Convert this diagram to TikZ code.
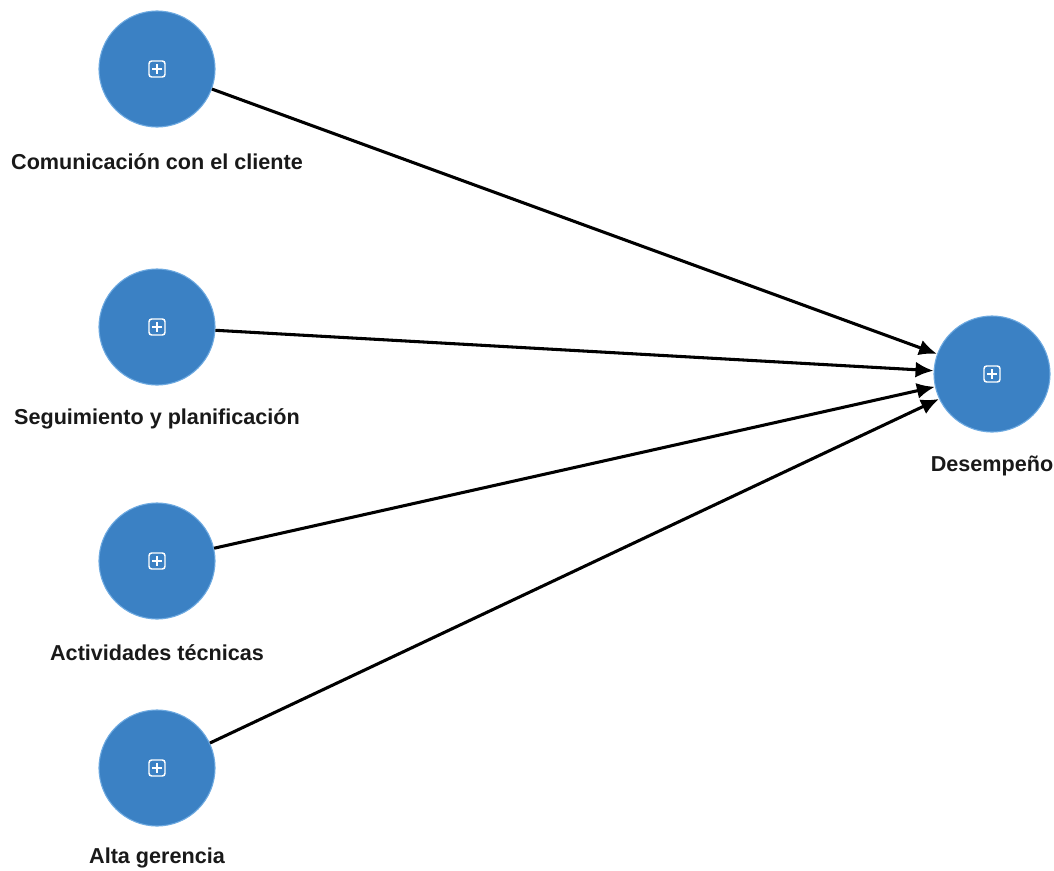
\documentclass[tikz,border=0pt]{standalone}
\usepackage{fontspec}
\setmainfont{Liberation Sans}
\usetikzlibrary{arrows.meta,calc}
\definecolor{nodeblue}{RGB}{59,129,196}
\definecolor{nodeedge}{RGB}{110,170,225}
\tikzset{
  lv/.style={circle, minimum size=87pt, inner sep=0pt, fill=nodeblue, draw=nodeedge, line width=0.8pt},
  lbl/.style={font=\bfseries\fontsize{16.2}{19}\selectfont, text=black!90},
  conn/.style={line width=2.3pt, -{Latex[length=13.5pt,width=12pt]}},
}
\newcommand{\plusicon}[1]{%
  \draw[white, line width=1.1pt, rounded corners=2pt] ($(#1)+(-8,-8)$) rectangle ($(#1)+(8,8)$);
  \draw[white, line width=1.1pt] ($(#1)+(-5,0)$) -- ($(#1)+(5,0)$) ($(#1)+(0,-5)$) -- ($(#1)+(0,5)$);
}
\begin{document}
\begin{tikzpicture}[x=0.75pt,y=-0.75pt]
\useasboundingbox (0,0) rectangle (1054,871);
\node[lv] (c) at (157,69) {};
\node[lv] (s) at (157,327) {};
\node[lv] (a) at (157,561) {};
\node[lv] (g) at (157,768) {};
\node[lv] (d) at (992,374) {};
\foreach \n in {c,s,a,g,d} {\plusicon{\n}}
\node[lbl] (lc) at (157,162) {Comunicación con el cliente};
\node[lbl] (ls) at (157,419) {Seguimiento y planificación};
\node[lbl] (la) at (157,653) {Actividades técnicas};
\node[lbl] (lg) at (157,858) {Alta gerencia};
\node[lbl] (ld) at (992,466) {Desempeño};
\draw[conn] (c) -- (d);
\draw[conn] (s) -- (d);
\draw[conn] (a) -- (d);
\draw[conn] (g) -- (d);
\end{tikzpicture}
\end{document}
